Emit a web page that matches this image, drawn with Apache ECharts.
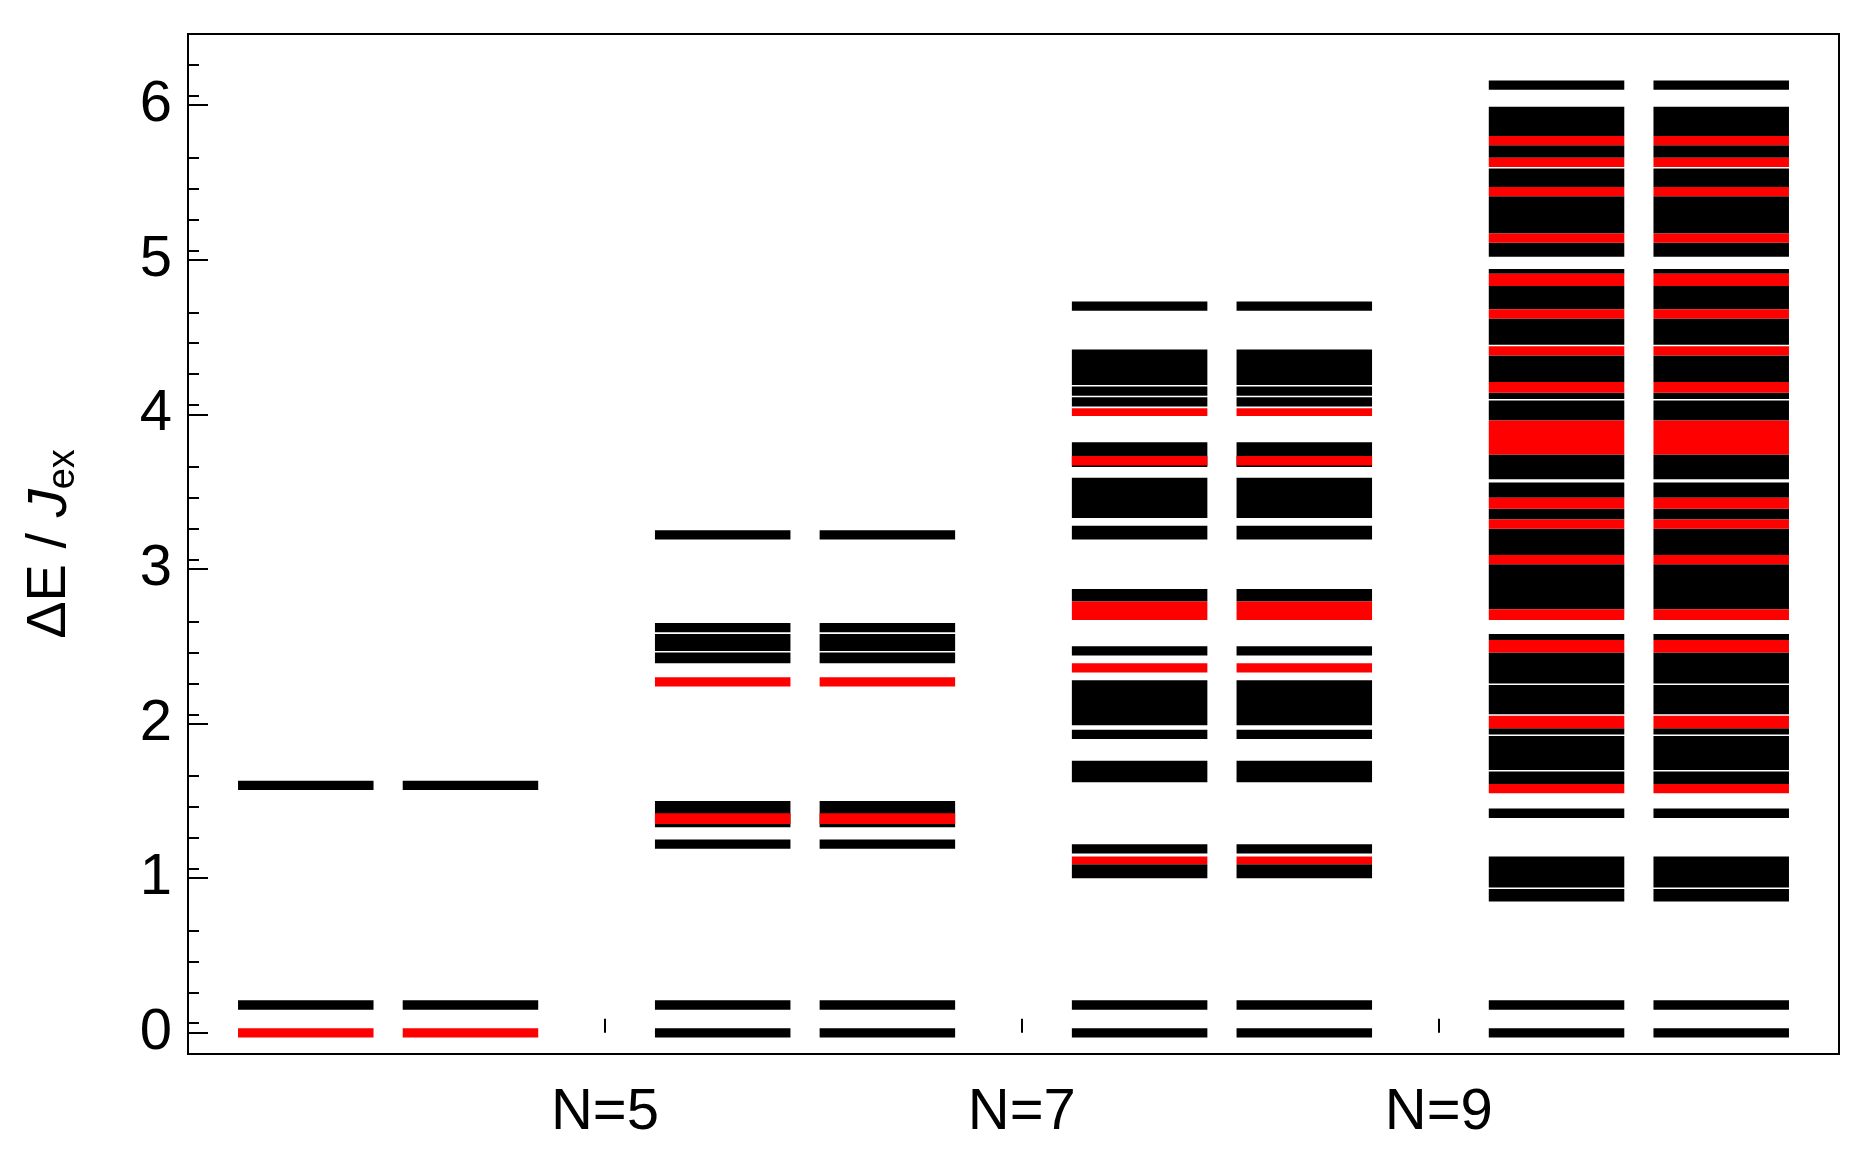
<!DOCTYPE html>
<html>
<head>
<meta charset="utf-8">
<script src="https://cdn.jsdelivr.net/npm/echarts@6/dist/echarts.min.js"></script>
<style>
  html, body { margin: 0; padding: 0; background: #fff; }
  #chart { width: 1869px; height: 1174px; }
</style>
</head>
<body>
<div id="chart"></div>
<script>
// Categories (x positions 1..4)
var categories = ['N=3', 'N=5', 'N=7', 'N=9'];

// Energy bands [low, high] in units of J_ex
var blackN3 = [[-0.03, 0.03], [1.57, 1.63], [0.15, 0.21]];
var redN3 = [[-0.03, 0.03]];
blackN3 = [[0.15, 0.21], [1.57, 1.63]];

var blackN5 = [[-0.03, 0.03], [0.15, 0.21], [1.19, 1.25], [1.33, 1.50], [2.39, 2.46],
  [2.47, 2.58], [2.59, 2.65], [3.19, 3.25]];
var redN5 = [[1.35, 1.42], [2.24, 2.30]];

var blackN7 = [[-0.03, 0.03], [0.15, 0.21], [1.00, 1.09], [1.16, 1.22], [1.62, 1.76],
  [1.90, 1.96], [1.99, 2.28], [2.44, 2.50], [2.79, 2.87], [3.19, 3.28], [3.33, 3.59],
  [3.66, 3.82], [4.05, 4.11], [4.12, 4.18], [4.19, 4.42], [4.67, 4.73]];
var redN7 = [[1.09, 1.14], [2.33, 2.39], [2.67, 2.79], [3.67, 3.73], [3.99, 4.04]];

var blackN9 = [[-0.03, 0.03], [0.15, 0.21], [0.85, 0.93], [0.94, 1.14], [1.39, 1.45],
  [1.61, 1.69], [1.70, 1.92], [1.93, 1.97], [2.06, 2.25], [2.26, 2.46], [2.54, 2.58],
  [2.74, 3.03], [3.09, 3.26], [3.32, 3.39], [3.46, 3.56], [3.58, 3.74], [3.96, 4.09],
  [4.10, 4.14], [4.21, 4.38], [4.45, 4.62], [4.68, 4.83], [4.91, 4.94], [5.02, 5.11],
  [5.17, 5.41], [5.47, 5.59], [5.66, 5.74], [5.80, 5.99], [6.10, 6.16]];
var redN9 = [[1.55, 1.61], [1.97, 2.05], [2.46, 2.54], [2.67, 2.74], [3.03, 3.09],
  [3.26, 3.32], [3.39, 3.46], [3.74, 3.96], [4.14, 4.21], [4.38, 4.44], [4.62, 4.68],
  [4.83, 4.91], [5.11, 5.17], [5.41, 5.47], [5.60, 5.66], [5.74, 5.80]];

var blackBands = [blackN3, blackN5, blackN7, blackN9];
var redBands = [redN3, redN5, redN7, redN9];

// two identical columns per N, offsets relative to category centre
var columns = [[-0.36, -0.035], [0.035, 0.36]];

function buildData(bands) {
  var out = [];
  bands.forEach(function (list, i) {
    list.forEach(function (b) {
      columns.forEach(function (c) {
        out.push([i + 1 + c[0], i + 1 + c[1], b[0], b[1]]);
      });
    });
  });
  return out;
}

function renderBand(params, api) {
  var p0 = api.coord([api.value(0), api.value(3)]);
  var p1 = api.coord([api.value(1), api.value(2)]);
  return {
    type: 'rect',
    shape: { x: p0[0], y: p0[1], width: p1[0] - p0[0], height: p1[1] - p0[1] },
    style: { fill: api.visual('color') }
  };
}

var chart = echarts.init(document.getElementById('chart'));
var fontFam = 'Liberation Sans, Arial, sans-serif';

chart.setOption({
  animation: false,
  grid: { left: 188, right: 30, top: 34, bottom: 120, show: true, borderColor: '#000', borderWidth: 2, backgroundColor: '#fff' },
  xAxis: {
    type: 'value', min: 0.52, max: 4.48, interval: 1,
    axisLine: { show: false },
    axisTick: { show: true, inside: true, length: 14, lineStyle: { color: '#000', width: 2 } },
    splitLine: { show: false },
    axisLabel: {
      color: '#000', fontSize: 58, fontFamily: fontFam, margin: 30, showMinLabel: false, showMaxLabel: false,
      formatter: function (v) { return categories[Math.round(v) - 1] || ''; }
    }
  },
  yAxis: {
    type: 'value', min: -0.137, max: 6.46, interval: 1,
    axisLine: { show: false },
    axisTick: { show: true, inside: true, length: 20, lineStyle: { color: '#000', width: 2 }, customValues: [0, 1, 2, 3, 4, 5, 6] },
    minorTick: { show: true, splitNumber: 5, length: 11, lineStyle: { color: '#000', width: 2 } },
    splitLine: { show: false },
    axisLabel: {
      color: '#000', fontSize: 58, fontFamily: fontFam, margin: 16,
      customValues: [0, 1, 2, 3, 4, 5, 6]
    },
    name: '{a|ΔE / }{j|J}{s|ex}',
    nameLocation: 'middle', nameGap: 105, nameRotate: 90,
    nameTextStyle: {
      rich: {
        a: { fontSize: 56, fontFamily: fontFam, color: '#000' },
        j: { fontSize: 56, fontFamily: fontFam, fontStyle: 'italic', color: '#000' },
        s: { fontSize: 38, fontFamily: fontFam, color: '#000', verticalAlign: 'bottom', padding: [28, 0, 0, 0] }
      }
    }
  },
  series: [
    { type: 'custom', renderItem: renderBand, itemStyle: { color: '#000' }, encode: { x: [0, 1], y: [2, 3] }, data: buildData(blackBands), clip: true },
    { type: 'custom', renderItem: renderBand, itemStyle: { color: '#ff0000' }, encode: { x: [0, 1], y: [2, 3] }, data: buildData(redBands), clip: true }
  ]
});
</script>
</body>
</html>
